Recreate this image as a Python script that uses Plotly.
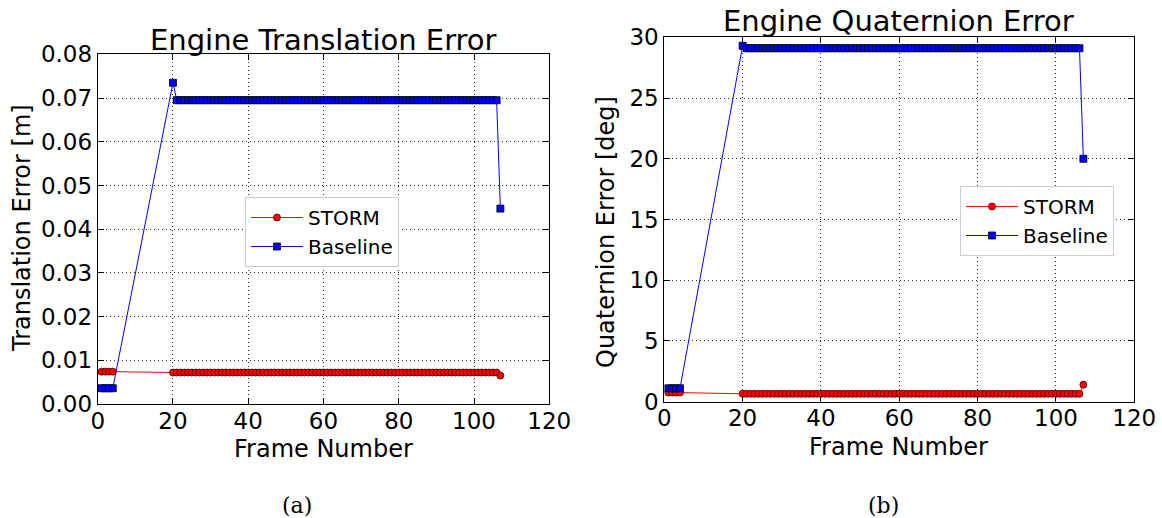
import plotly.graph_objects as go

# ---------------- data ----------------
# frame numbers: four early frames, then frames 20..107
frames_early = [1, 2, 3, 4]
frames_late = list(range(20, 108))
frames = frames_early + frames_late

# plateau values (constant over frames 21..106)
trans_storm = [0.0074, 0.0074, 0.0074, 0.0074] + [0.0072] * 87 + [0.0065]
trans_base = [0.0036, 0.0036, 0.0036, 0.0036] + [0.0735] + [0.0695] * 86 + [0.0447]
quat_storm = [0.75, 0.75, 0.75, 0.75] + [0.65] * 87 + [1.4]
quat_base = [1.1, 1.1, 1.1, 1.1] + [29.3] + [29.1] * 86 + [20.0]

x_ticks = [0, 20, 40, 60, 80, 100, 120]
trans_ticks = [0.00, 0.01, 0.02, 0.03, 0.04, 0.05, 0.06, 0.07, 0.08]
trans_labels = ["0.00", "0.01", "0.02", "0.03", "0.04", "0.05", "0.06", "0.07", "0.08"]
quat_ticks = [0, 5, 10, 15, 20, 25, 30]

# ---------------- figure ----------------
W, H = 1162, 518
FONT = "DejaVu Sans"


def px_x(p):
    return p / W


def px_y(p):
    return 1 - p / H


storm_marker = dict(symbol="circle", size=7, color="red", line=dict(color="#400000", width=0.8))
base_marker = dict(symbol="square", size=7, color="blue", line=dict(color="black", width=0.8))

fig = go.Figure()
fig.add_trace(go.Scatter(x=frames, y=trans_storm, mode="lines+markers", name="STORM",
                         line=dict(color="red", width=1), marker=storm_marker,
                         xaxis="x", yaxis="y", legend="legend"))
fig.add_trace(go.Scatter(x=frames, y=trans_base, mode="lines+markers", name="Baseline",
                         line=dict(color="blue", width=1), marker=base_marker,
                         xaxis="x", yaxis="y", legend="legend"))
fig.add_trace(go.Scatter(x=frames, y=quat_storm, mode="lines+markers", name="STORM",
                         line=dict(color="red", width=1), marker=storm_marker,
                         xaxis="x2", yaxis="y2", legend="legend2"))
fig.add_trace(go.Scatter(x=frames, y=quat_base, mode="lines+markers", name="Baseline",
                         line=dict(color="blue", width=1), marker=base_marker,
                         xaxis="x2", yaxis="y2", legend="legend2"))

axis_common = dict(
    showline=True, linecolor="black", linewidth=1, mirror="ticks",
    ticks="inside", ticklen=6, tickcolor="black", tickwidth=1,
    showgrid=True, gridcolor="#333333", griddash="1px,3px", gridwidth=1,
    zeroline=False, automargin=False,
    tickfont=dict(family=FONT, size=23, color="black"),
)

legend_common = dict(
    xanchor="left", yanchor="top",
    bgcolor="white", bordercolor="#cccccc", borderwidth=1,
    font=dict(family=FONT, size=20, color="black"), itemwidth=52,
    tracegroupgap=0,
)

fig.update_layout(
    width=W, height=H, autosize=False,
    margin=dict(l=0, r=0, t=0, b=0, pad=0, autoexpand=False),
    paper_bgcolor="white", plot_bgcolor="white",
    font=dict(family=FONT, color="black"),
    xaxis=dict(domain=[px_x(97.7), px_x(549.3)], range=[0, 120], tickvals=x_ticks,
               anchor="y", ticklabelstandoff=-4, **axis_common),
    yaxis=dict(domain=[px_y(404), px_y(54.3)], range=[0, 0.08], tickvals=trans_ticks,
               ticktext=trans_labels, anchor="x", **axis_common),
    xaxis2=dict(domain=[px_x(664.3), px_x(1134.3)], range=[0, 120], tickvals=x_ticks,
                anchor="y2", ticklabelstandoff=-4, **axis_common),
    yaxis2=dict(domain=[px_y(401.7), px_y(37.3)], range=[0, 30], tickvals=quat_ticks,
                anchor="x2", **axis_common),
    legend=dict(x=px_x(245), y=px_y(197), **legend_common),
    legend2=dict(x=px_x(960), y=px_y(186), **legend_common),
    showlegend=True,
)

annots = [
    dict(text="Engine Translation Error", x=px_x(323), y=px_y(40), size=29),
    dict(text="Engine Quaternion Error", x=px_x(898), y=px_y(21), size=29),
    dict(text="Frame Number", x=px_x(323), y=px_y(449), size=24),
    dict(text="Frame Number", x=px_x(898), y=px_y(447), size=24),
]
for a in annots:
    fig.add_annotation(text=a["text"], x=a["x"], y=a["y"], xref="paper", yref="paper",
                       xanchor="center", yanchor="middle", showarrow=False,
                       font=dict(family=FONT, size=a["size"], color="black"))

fig.add_annotation(text="Translation Error [m]", x=px_x(22), y=px_y(228), xref="paper",
                   yref="paper", textangle=-90, showarrow=False, xanchor="center",
                   yanchor="middle", font=dict(family=FONT, size=24, color="black"))
fig.add_annotation(text="Quaternion Error [deg]", x=px_x(606), y=px_y(232), xref="paper",
                   yref="paper", textangle=-90, showarrow=False, xanchor="center",
                   yanchor="middle", font=dict(family=FONT, size=24, color="black"))

fig.add_annotation(text="(a)", x=px_x(297), y=px_y(505), xref="paper", yref="paper",
                   showarrow=False, xanchor="center", yanchor="middle",
                   font=dict(family="DejaVu Serif", size=22, color="black"))
fig.add_annotation(text="(b)", x=px_x(883), y=px_y(505), xref="paper", yref="paper",
                   showarrow=False, xanchor="center", yanchor="middle",
                   font=dict(family="DejaVu Serif", size=22, color="black"))

fig.write_html("out.html")
